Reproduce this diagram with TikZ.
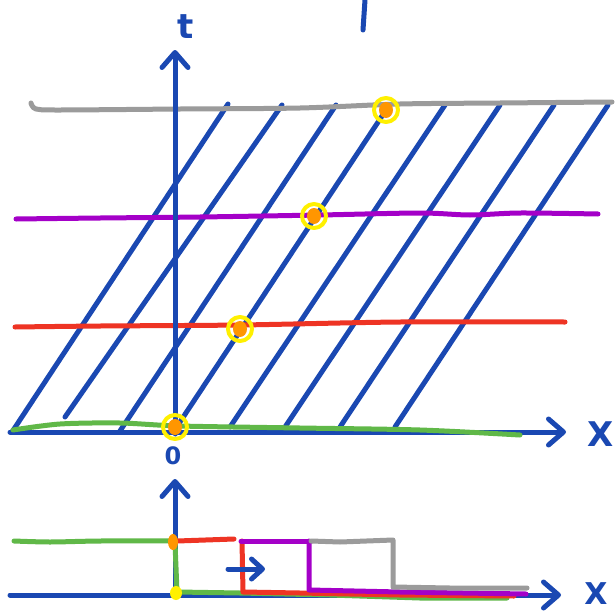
\documentclass[tikz,border=0pt]{standalone}
\usepackage{fontspec}
\setmainfont{DejaVu Sans}
\usetikzlibrary{arrows.meta}
\definecolor{pblue}{RGB}{26,72,178}
\definecolor{pgray}{RGB}{155,155,155}
\definecolor{ppurple}{RGB}{164,0,200}
\definecolor{pred}{RGB}{238,52,36}
\definecolor{pgreen}{RGB}{96,184,72}
\definecolor{porange}{RGB}{255,150,0}
\definecolor{pyellow}{RGB}{255,240,0}
\tikzset{
  ax/.style={draw=pblue, line width=5pt, line cap=round},
  diag/.style={draw=pblue, line width=5pt, line cap=round},
  hline/.style={line width=5pt, line cap=round, line join=round},
  tipv/.style={-{Straight Barb[length=15pt,width=26pt,line width=5pt,round]}},
  dot/.style={fill=porange, draw=none},
  ring/.style={draw=pyellow, line width=4pt},
  lbl/.style={text=pblue, font=\fontsize{34}{34}\selectfont\bfseries, inner sep=0pt}
}
\begin{document}
\begin{tikzpicture}[x=1pt,y=-1pt, line join=round]
\useasboundingbox (0,0) rectangle (615,616);
\fill[white] (0,0) rectangle (615,616);
% ---------- upper diagram ----------
% diagonals
\foreach \bx/\by/\tx/\ty in {12/432/228/104, 65/417/282/105, 120/431/336/105, 176/428/388/107,
  230/427/445/105, 285/427/500/105, 340/427/554/105, 395/427/608/105}
  \draw[diag] (\bx,\by) -- (\tx,\ty);
% stray stroke at the top
\draw[diag] (365,0) -- (363,30);
% coloured horizontals
\draw[hline, pgray] plot[smooth] coordinates {(31,103) (36,109) (60,110) (180,109) (300,108) (400,104) (500,103) (612,102)};
\draw[hline, ppurple] plot[smooth] coordinates {(16,219) (100,218) (200,217) (320,215) (420,213) (470,215) (520,213) (598,214)};
\draw[hline, pred] plot[smooth] coordinates {(15,327) (100,326) (240,325) (400,322) (565,322)};
% axes
\coordinate (O) at (175,432);
\coordinate (tTop) at (175,50);
\coordinate (xEnd) at (566,432);
\coordinate (xStart) at (10,432);
\draw[ax, tipv] (O) ++(0,2) -- (tTop);
\draw[ax, tipv] (xStart) -- (xEnd);
\draw[hline, pgreen] plot[smooth] coordinates {(13,430) (60,424) (120,423) (180,426) (300,428) (420,430) (520,435)};
\node[lbl] (tlab) at (186,27) {t};
\node[lbl] (xlab) at (601,434) {X};
\node[text=pblue, font=\fontsize{24}{24}\selectfont\bfseries, inner sep=0pt] (zero) at (173,456) {0};
% marked events
\foreach \px/\py in {175/427, 240/329, 314/216, 386/110} {
  \fill[dot] (\px,\py) ellipse (7pt and 8pt);
  \draw[ring] (\px,\py) circle (12pt);
}
% ---------- lower diagram ----------
\coordinate (O2) at (175,595);
\coordinate (t2Top) at (175,479);
\coordinate (x2Start) at (10,595);
\coordinate (x2End) at (561,595);
\draw[ax, tipv] (O2) -- (t2Top);
\draw[ax, tipv] (x2Start) -- (x2End);
% green step
\draw[hline, pgreen] plot[smooth] coordinates {(14,541) (50,542) (100,541) (175,541)};
\draw[hline, pgreen] (175,543) -- (177,592) -- (240,593) -- (330,595) -- (420,598) -- (507,598);
% red step
\draw[hline, pred] (177,541) -- (234,539);
\draw[hline, pred] (242,541) -- (243,592) -- (300,593) -- (400,595) -- (514,596);
% purple step
\draw[hline, ppurple] (241,541) -- (311,541);
\draw[hline, ppurple] (309,541) -- (309,590) -- (400,592) -- (526,594);
% gray step
\draw[hline, pgray] (311,541) -- (340,542) -- (393,540) -- (393,587) -- (450,588) -- (527,588);
% dots
\fill[porange] (173,542) ellipse (5pt and 8pt);
\fill[pyellow] (176,593) ellipse (6pt and 7pt);
% small arrow
\coordinate (sa) at (228,569);
\coordinate (sb) at (265,569);
\draw[ax, -{Straight Barb[length=11pt,width=20pt,line width=5pt,round]}] (sa) -- (sb);
\node[text=pblue, font=\fontsize{30}{30}\selectfont\bfseries, inner sep=0pt] (xlab2) at (596,594) {X};
\end{tikzpicture}
\end{document}
